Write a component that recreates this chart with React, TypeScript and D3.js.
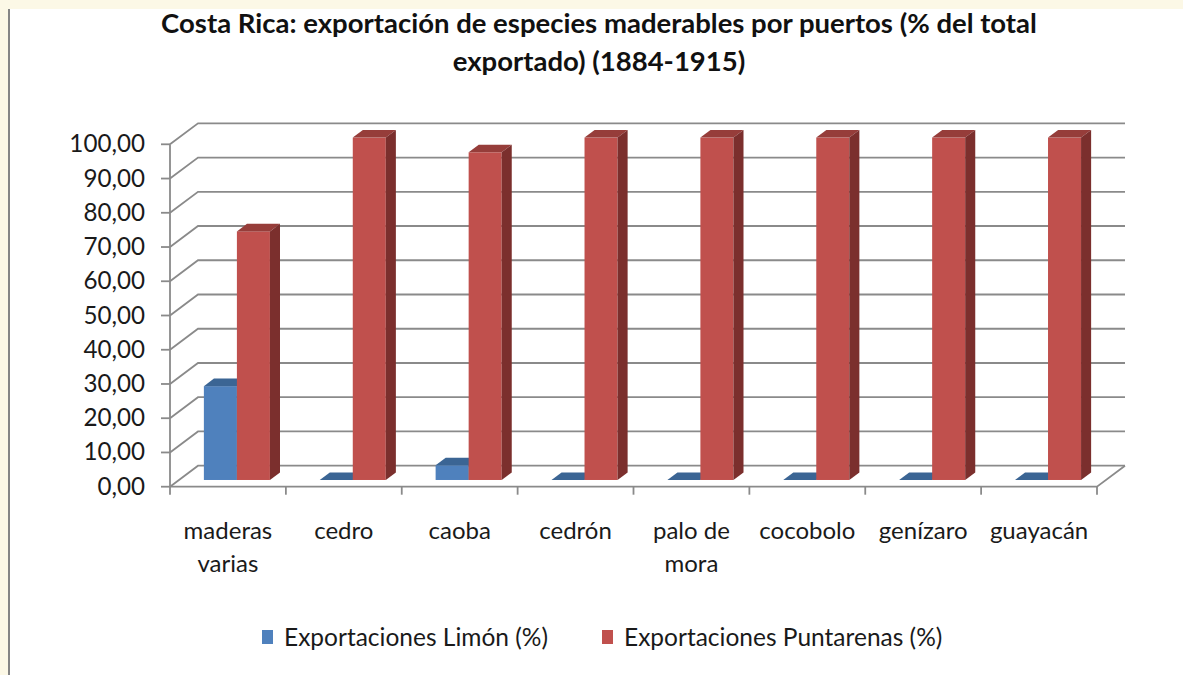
import { useMemo } from "react";
import * as d3 from "d3";

// Costa Rica timber exports by port — faux-3D clustered columns (Excel style).

const categories = [
  ["maderas", "varias"],
  ["cedro"],
  ["caoba"],
  ["cedrón"],
  ["palo de", "mora"],
  ["cocobolo"],
  ["genízaro"],
  ["guayacán"],
];
const limon = [27.4, 0, 4.3, 0, 0, 0, 0, 0];
const puntarenas = [72.6, 100, 95.7, 100, 100, 100, 100, 100];
const seriesNames = ["Exportaciones Limón (%)", "Exportaciones Puntarenas (%)"];
const yTicks = d3.range(0, 101, 10);

const W = 1183;
const H = 675;
const FONT = "Lato, 'Open Sans', sans-serif";

// depth of the 3D box (back wall offset)
const DX = 28;
const DY = -21;
// bars sit between these depth fractions
const F0 = 0.32;
const F1 = 0.68;

const COLORS = [
  { front: "#4f81bd", top: "#3b6594", side: "#2f5078" },
  { front: "#c0504d", top: "#963d3a", side: "#7b2f2d" },
];

export default function App() {
  const x = useMemo(
    () =>
      d3
        .scaleBand<number>()
        .domain(d3.range(categories.length))
        .range([170, 1097])
        .paddingInner(0)
        .paddingOuter(0),
    []
  );
  const y = useMemo(() => d3.scaleLinear().domain([0, 100]).range([486.7, 144.3]), []);

  const bw = x.bandwidth();
  const barW = bw * 0.285;
  const groupOff = (bw - barW * 2) / 2;
  const y0 = y(0);
  const grid = "#8a8a8a";

  const bars: JSX.Element[] = [];
  categories.forEach((_, i) => {
    [limon, puntarenas].forEach((vals, s) => {
      const c = COLORS[s];
      const xl = (x(i) ?? 0) + groupOff + s * barW + DX * F0;
      const xr = xl + barW;
      const yb = y0 + DY * F0;
      const yt = y(vals[i]) + DY * F0;
      const ddx = DX * (F1 - F0);
      const ddy = DY * (F1 - F0);
      bars.push(
        <g key={`${i}-${s}`}>
          <rect x={xl} y={yt} width={barW} height={yb - yt} fill={c.front} />
          <polygon
            points={`${xl},${yt} ${xl + ddx},${yt + ddy} ${xr + ddx},${yt + ddy} ${xr},${yt}`}
            fill={c.top}
          />
          <polygon
            points={`${xr},${yt} ${xr + ddx},${yt + ddy} ${xr + ddx},${yb + ddy} ${xr},${yb}`}
            fill={c.side}
          />
        </g>
      );
    });
  });

  return (
    <>
      <style>{`body{margin:0}`}</style>
      <svg width={W} height={H} style={{ display: "block" }} fontFamily={FONT}>
        <rect width={W} height={H} fill="#fcf8e6" />
        <rect x={10} y={9} width={W - 10} height={H - 9} fill="#ffffff" />
        <line x1={9} x2={9} y1={9} y2={H} stroke="#858585" strokeWidth={2} />

        {/* title */}
        <text x={599} y={33} textAnchor="middle" fontWeight="bold" fontSize={27.5} fill="#111">
          Costa Rica: exportación de especies maderables por puertos (% del total
        </text>
        <text x={599} y={71} textAnchor="middle" fontWeight="bold" fontSize={27.5} fill="#111">
          exportado) (1884-1915)
        </text>

        {/* back wall gridlines with the slanted side-wall segment */}
        {yTicks.map((t) => (
          <path
            key={t}
            d={`M${x.range()[0]},${y(t)}L${x.range()[0] + DX},${y(t) + DY}L${x.range()[1] + DX},${y(t) + DY}`}
            fill="none"
            stroke={grid}
            strokeWidth={1.8}
          />
        ))}
        {/* value axis */}
        <line x1={170} x2={170} y1={y(0)} y2={y(100)} stroke={grid} strokeWidth={1.8} />
        {yTicks.map((t) => (
          <line key={t} x1={161} x2={170} y1={y(t)} y2={y(t)} stroke={grid} strokeWidth={1.8} />
        ))}
        {yTicks.map((t) => (
          <text key={t} x={145} y={y(t) + 8} textAnchor="end" fontSize={24.2} fill="#1a1a1a">
            {d3.format(".2f")(t).replace(".", ",")}
          </text>
        ))}

        {/* floor front edge + right edge */}
        <path
          d={`M${x.range()[0]},${y0}L${x.range()[1]},${y0}L${x.range()[1] + DX},${y0 + DY}`}
          fill="none"
          stroke={grid}
          strokeWidth={1.8}
        />
        {d3.range(categories.length + 1).map((i) => {
          const xx = i < categories.length ? x(i) ?? 0 : x.range()[1];
          return <line key={i} x1={xx} x2={xx} y1={y0} y2={y0 + 8} stroke={grid} strokeWidth={1.8} />;
        })}

        {bars}

        {/* category labels */}
        {categories.map((lines, i) => (
          <text
            key={i}
            x={(x(i) ?? 0) + bw / 2}
            y={539}
            textAnchor="middle"
            fontSize={24}
            fill="#1a1a1a"
          >
            {lines.map((l, k) => (
              <tspan key={k} x={(x(i) ?? 0) + bw / 2} dy={k === 0 ? 0 : 33}>
                {l}
              </tspan>
            ))}
          </text>
        ))}

        {/* legend */}
        {seriesNames.map((name, s) => {
          const lx = s === 0 ? 262 : 602;
          return (
            <g key={name}>
              <rect x={lx} y={630} width={11} height={14} fill={COLORS[s].front} />
              <text x={lx + 22} y={646} fontSize={24.5} fill="#1a1a1a">
                {name}
              </text>
            </g>
          );
        })}
      </svg>
    </>
  );
}
